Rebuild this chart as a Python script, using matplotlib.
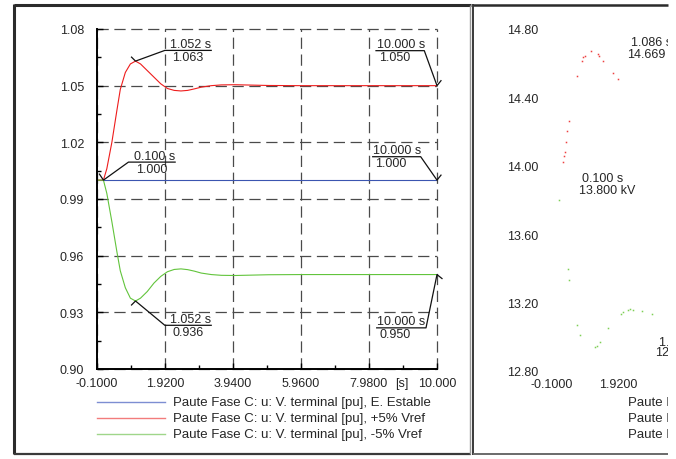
import matplotlib
matplotlib.use("Agg")
import matplotlib.pyplot as plt
from matplotlib.lines import Line2D
from matplotlib.patches import Rectangle

plt.rcParams["font.family"] = ["Liberation Sans", "DejaVu Sans"]
plt.rcParams["font.size"] = 9

W, H = 676, 460
TXT = "#262626"

# terminal voltage [pu] vs time [s]
t_base = [-0.1, 10.0]
v_base = [1.000, 1.000]

t_step = [-0.1, 0.1, 0.2, 0.35, 0.5, 0.6, 0.75, 0.9, 1.052, 1.2, 1.4, 1.6, 1.8,
          2.0, 2.2, 2.4, 2.6, 2.8, 3.0, 3.3, 3.6, 4.0, 4.5, 5.0, 6.0, 8.0, 10.0]
v_pos = [1.000, 1.000, 1.006, 1.020, 1.037, 1.048, 1.057, 1.0615, 1.063, 1.0615,
         1.058, 1.0545, 1.051, 1.0485, 1.0475, 1.0472, 1.0475, 1.0483, 1.0492,
         1.0500, 1.0504, 1.0505, 1.0503, 1.0501, 1.0500, 1.0500, 1.0500]
v_neg = [1.000, 1.000, 0.993, 0.978, 0.962, 0.952, 0.943, 0.9375, 0.936, 0.9375,
         0.941, 0.9455, 0.949, 0.9515, 0.9527, 0.9530, 0.9526, 0.9518, 0.9508,
         0.9500, 0.9496, 0.9495, 0.9497, 0.9499, 0.9500, 0.9500, 0.9500]

series_labels = [
    "Paute Fase C: u: V. terminal [pu], E. Estable",
    "Paute Fase C: u: V. terminal [pu], +5% Vref",
    "Paute Fase C: u: V. terminal [pu], -5% Vref",
]
series_colors = ["#3b55b0", "#ee1c1c", "#62c43c"]
legend_colors = ["#7d8ed2", "#f27c7c", "#9fd68a"]

x_ticks = [-0.1, 1.92, 3.94, 5.96, 7.98, 10.0]
x_tick_labels = ["-0.1000", "1.9200", "3.9400", "5.9600", "7.9800", "10.000"]
x_minor = [0.91, 2.93, 4.95, 6.97, 8.99]
y_ticks = [0.90, 0.93, 0.96, 0.99, 1.02, 1.05, 1.08]
y_minor = [0.915, 0.945, 0.975, 1.005, 1.035, 1.065]

# terminal voltage [kV], sparse samples
t_kv_pos = [0.246, 0.277, 0.288, 0.328, 0.368, 0.42, 0.674, 0.827, 0.857, 0.909,
            1.086, 1.30, 1.35, 1.47, 1.756, 1.91]
kv_pos = [14.020, 14.058, 14.078, 14.137, 14.201, 14.263, 14.527, 14.614, 14.634,
          14.644, 14.669, 14.654, 14.640, 14.614, 14.540, 14.507]
t_kv_neg = [0.100, 0.38, 0.43, 0.674, 0.756, 1.215, 1.267, 1.368, 1.62, 2.0, 2.08,
            2.23, 2.285, 2.39, 2.64, 2.95]
kv_neg = [13.800, 13.395, 13.330, 13.069, 13.008, 12.936, 12.946, 12.969, 13.048,
          13.131, 13.141, 13.157, 13.161, 13.157, 13.147, 13.130]
kv_ticks = [12.8, 13.2, 13.6, 14.0, 14.4, 14.8]
kv_x_ticks = [-0.1, 1.92]
kv_x_tick_labels = ["-0.1000", "1.9200"]


def fx(px):
    return px / W


def fy(py):
    return 1 - py / H


def cursor_label(ax, x, y, elbow, length, top, bottom, tick, pad):
    # leader line from the point to an underline carrying time / value
    inv = ax.transData.inverted()
    px, py = ax.transData.transform((x, y))
    ex, ey = px + elbow[0], py - elbow[1]
    ux = ex + length
    left = min(ex, ux)
    pts = inv.transform([(px + tick[0], py - tick[1]), (px, py), (ex, ey), (ux, ey)])
    ax.plot(pts[:, 0], pts[:, 1], color="#111111", lw=0.9, clip_on=False, zorder=6)
    tx, ty = inv.transform((left + pad, ey + 0.5))
    ax.text(tx, ty, top, ha="left", va="bottom", color=TXT, fontsize=9, zorder=6)
    bx, by = inv.transform((left + pad + 2, ey - 0.5))
    ax.text(bx, by, bottom, ha="left", va="top", color=TXT, fontsize=9, zorder=6)


fig = plt.figure(figsize=(W / 100, H / 100), dpi=100)

# left panel: voltage in pu
ax = fig.add_axes([fx(96.7), fy(370), (437 - 96.7) / W, 340 / H])
ax.plot(t_base, v_base, color=series_colors[0], lw=0.8, zorder=3)
ax.plot(t_step, v_pos, color=series_colors[1], lw=0.8, zorder=3)
ax.plot(t_step, v_neg, color=series_colors[2], lw=0.8, zorder=3)
ax.set_xlim(-0.1, 10.0)
ax.set_ylim(0.90, 1.08)
ax.set_xticks(x_ticks)
ax.set_xticklabels(x_tick_labels)
ax.set_xticks(x_minor, minor=True)
ax.set_yticks(y_ticks)
ax.set_yticklabels(["%.2f" % v for v in y_ticks])
ax.set_yticks(y_minor, minor=True)
ax.tick_params(which="major", direction="in", length=4.5, width=1.0, color="black",
               labelcolor=TXT, labelsize=9)
ax.tick_params(axis="y", which="major", pad=9)
ax.tick_params(axis="x", which="major", pad=6)
ax.tick_params(which="minor", direction="in", length=3, width=1.0, color="black")
for side in ("top", "right"):
    ax.spines[side].set_visible(False)
for side in ("left", "bottom"):
    ax.spines[side].set_linewidth(1.4)
    ax.spines[side].set_zorder(5)
ax.set_axisbelow(True)
ax.grid(True, which="major", color="#4a4a4a", lw=0.9, linestyle=(0, (9, 4.5)))
for gl in ax.get_xgridlines() + ax.get_ygridlines():
    gl.set_clip_on(False)
ax.annotate("[s]", xy=(8.95, 0), xycoords=("data", "axes fraction"),
            xytext=(0, -6), textcoords="offset points", ha="center", va="top",
            color=TXT, fontsize=9)

cursor_label(ax, 1.052, 1.063, (29.3, -10.7), 46.4, "1.052 s", "1.063", (-4, -4), 5.5)
cursor_label(ax, 0.100, 1.000, (25, -18), 46.7, "0.100 s", "1.000", (-4, -6), 5.5)
cursor_label(ax, 10.0, 1.050, (-12.7, -35), -48.3, "10.000 s", "1.050", (4, -5), 0.7)
cursor_label(ax, 10.0, 1.000, (-16.3, -23.4), -48.0, "10.000 s", "1.000", (4, -5), 0.7)
cursor_label(ax, 1.052, 0.936, (29.3, 24.3), 46.4, "1.052 s", "0.936", (-4, 4), 5.5)
cursor_label(ax, 10.0, 0.950, (-11, 53.3), -49.3, "10.000 s", "0.950", (5, 4), 0.7)

# legend rows
for i, (lab, col) in enumerate(zip(series_labels, legend_colors)):
    yy = 402.7 + 16 * i
    fig.add_artist(Line2D([fx(97), fx(165)], [fy(yy), fy(yy)], color=col, lw=1.0))
    fig.text(fx(173), fy(yy), lab, ha="left", va="center", color=TXT, fontsize=9.5)

# right panel: voltage in kV
ax2 = fig.add_axes([fx(552), fy(371.7), (882 - 552) / W, (371.7 - 30) / H])
ax2.plot(t_kv_pos, kv_pos, linestyle="none", marker="s", ms=1.1, mew=0,
         color="#ee4040")
ax2.plot(t_kv_neg, kv_neg, linestyle="none", marker="s", ms=1.1, mew=0,
         color="#7fcf55")
ax2.set_xlim(-0.1, 10.0)
ax2.set_ylim(12.8, 14.8)
ax2.set_xticks(kv_x_ticks)
ax2.set_xticklabels(kv_x_tick_labels)
ax2.set_yticks(kv_ticks)
ax2.set_yticklabels(["%.2f" % v for v in kv_ticks])
ax2.tick_params(length=0, labelcolor=TXT, labelsize=9)
ax2.tick_params(axis="y", pad=9.5)
ax2.tick_params(axis="x", pad=5.5)
for s in ax2.spines.values():
    s.set_visible(False)
ax2.patch.set_visible(False)

fig.text(fx(631), fy(43.3), "1.086 s", va="center", color=TXT, fontsize=9)
fig.text(fx(626.7), fy(55), "14.669", va="center", color=TXT, fontsize=9)
fig.text(fx(582.3), fy(179), "0.100 s", va="center", color=TXT, fontsize=9)
fig.text(fx(579), fy(190.7), "13.800 kV", va="center", color=TXT, fontsize=9)
fig.text(fx(659.3), fy(342.7), "1.052 s", va="center", color=TXT, fontsize=9)
fig.text(fx(655), fy(353.3), "12.917", va="center", color=TXT, fontsize=9)
for i, lab in enumerate(series_labels):
    fig.text(fx(628.3), fy(402.7 + 16 * i), lab, ha="left", va="center",
             color=TXT, fontsize=9.5)

# cut the right panel at the page edge
fig.add_artist(Rectangle((fx(668), 0), 1 - fx(668), 1, transform=fig.transFigure,
                         facecolor="white", edgecolor="none", zorder=20))


# panel frames
def frame_line(xs, ys, color, lw):
    fig.add_artist(Line2D([fx(v) for v in xs], [fy(v) for v in ys], color=color,
                          lw=lw, zorder=21, solid_capstyle="butt"))


frame_line([14, 471], [6, 6], "#2b2b2b", 2.2)
frame_line([14, 14], [5, 455], "#2b2b2b", 2.2)
frame_line([14, 471], [455, 455], "#3a3a3a", 1.6)
frame_line([469.5, 469.5], [6, 455], "#9a9a9a", 1.0)
frame_line([472.8, 472.8], [5, 456], "#2b2b2b", 1.3)
frame_line([473, 668], [6, 6], "#2b2b2b", 1.8)
frame_line([473, 668], [455, 455], "#6a6a6a", 1.4)

fig.savefig("out.png", dpi=100)
